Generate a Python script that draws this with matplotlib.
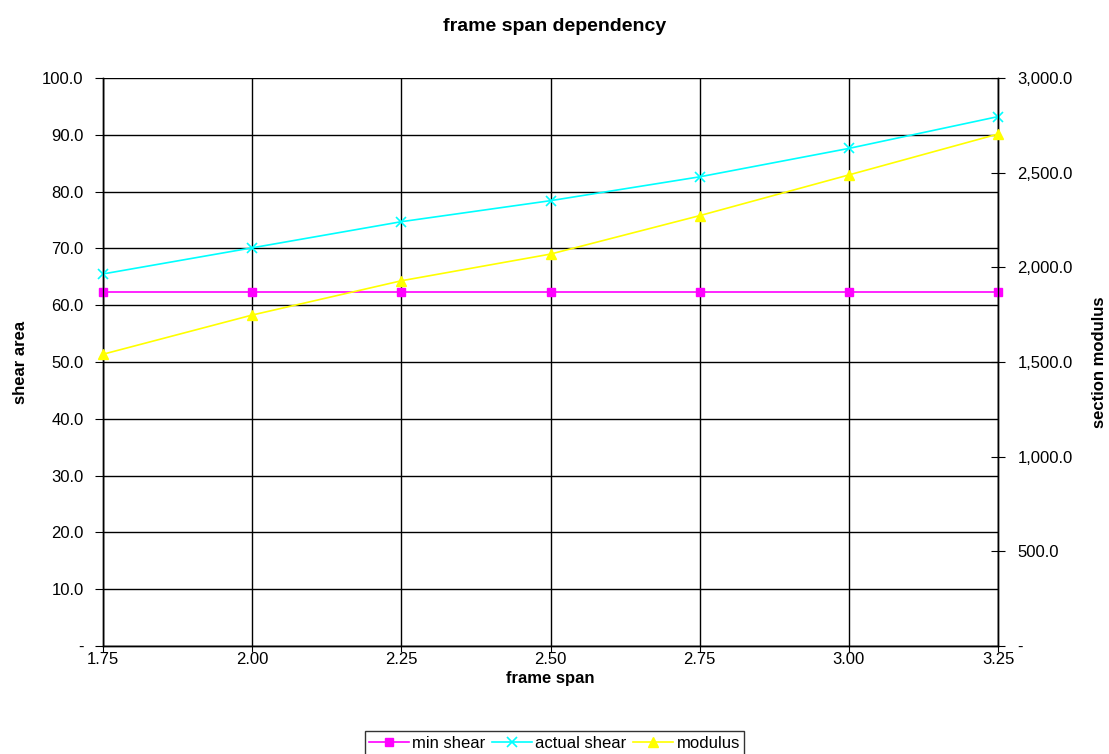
import matplotlib.pyplot as plt
from matplotlib.ticker import FuncFormatter, MultipleLocator

plt.rcParams['font.family'] = ['Liberation Sans', 'DejaVu Sans']

# --- dati ---
frame_span = [1.75, 2.00, 2.25, 2.50, 2.75, 3.00, 3.25]
min_shear = [62.3, 62.3, 62.3, 62.3, 62.3, 62.3, 62.3]
actual_shear = [65.5, 70.1, 74.7, 78.4, 82.6, 87.6, 93.2]
modulus = [1541, 1748, 1929, 2070, 2273, 2488, 2704]


def fmt_left(v, pos):
    return "-" if abs(v) < 1e-9 else f"{v:.1f}"


def fmt_right(v, pos):
    return "-" if abs(v) < 1e-9 else f"{v:,.1f}"


fig = plt.figure(figsize=(11.09, 7.54), dpi=100)
ax = fig.add_axes([0.0929, 0.1432, 0.8071, 0.7534])
ax2 = ax.twinx()

l1, = ax.plot(frame_span, min_shear, color='#FF00FF', marker='s', markersize=6,
              linewidth=1.2, label='min shear', clip_on=False, zorder=5)
l2, = ax.plot(frame_span, actual_shear, color='#00FFFF', marker='x', markersize=7,
              markeredgewidth=1.2, linewidth=1.2, label='actual shear',
              clip_on=False, zorder=5)
l3, = ax2.plot(frame_span, modulus, color='#FFFF00', marker='^', markersize=7,
               linewidth=1.2, label='modulus', clip_on=False, zorder=5)

ax.set_xlim(1.75, 3.25)
ax.set_ylim(0, 100)
ax2.set_ylim(0, 3000)
ax.xaxis.set_major_locator(MultipleLocator(0.25))
ax.yaxis.set_major_locator(MultipleLocator(10))
ax2.yaxis.set_major_locator(MultipleLocator(500))
ax.xaxis.set_major_formatter(FuncFormatter(lambda v, p: f"{v:.2f}"))
ax.yaxis.set_major_formatter(FuncFormatter(fmt_left))
ax2.yaxis.set_major_formatter(FuncFormatter(fmt_right))

ax.grid(True, color='black', linewidth=1)
ax.set_axisbelow(True)
for a in (ax, ax2):
    for s in a.spines.values():
        s.set_color('black')
        s.set_linewidth(1)
ax.spines['top'].set_visible(False)
ax2.spines['top'].set_visible(False)

ax.tick_params(axis='x', labelsize=12, direction='out', length=4, pad=0)
ax.tick_params(axis='y', labelsize=12, direction='out', length=6, pad=8)
ax2.tick_params(axis='y', labelsize=12, direction='inout', length=10, pad=9)

ax.set_xlabel('frame span', fontsize=12, fontweight='bold', labelpad=3)
ax.set_ylabel('shear area', fontsize=12, fontweight='bold', labelpad=10)
ax2.set_ylabel('section modulus', fontsize=12, fontweight='bold', labelpad=14)
fig.suptitle('frame span dependency', fontsize=14, fontweight='bold', y=0.976)

leg = fig.legend(handles=[l1, l2, l3], loc='lower center', ncol=3,
                 bbox_to_anchor=(0.5, -0.012), fontsize=12, frameon=True,
                 fancybox=False, handlelength=2.4, columnspacing=0.4,
                 handletextpad=0.2, borderpad=0.25)
leg.get_frame().set_edgecolor('black')
leg.get_frame().set_linewidth(1)

fig.savefig('out.png', dpi=100)
